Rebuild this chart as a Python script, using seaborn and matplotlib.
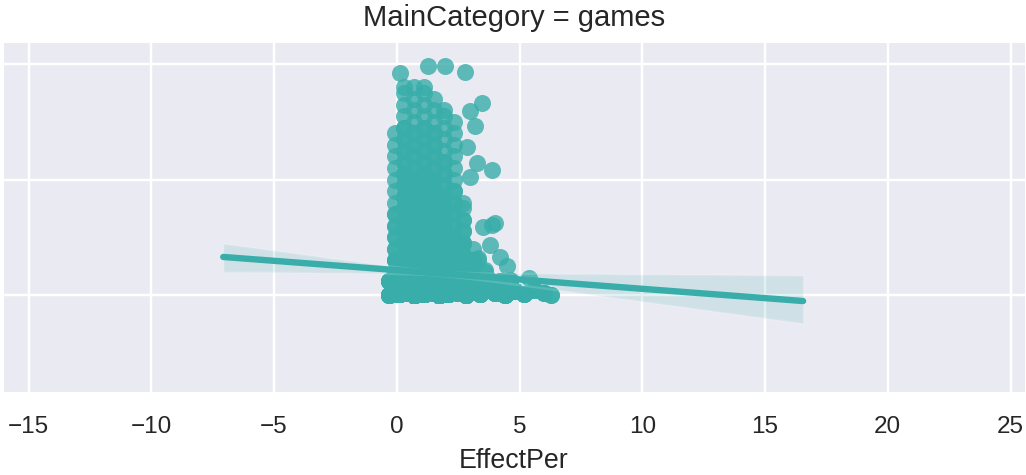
import numpy as np
import pandas as pd
import seaborn as sns
import matplotlib.pyplot as plt

# franja de abajo: casi todos los proyectos con valor ~0
band_x = [-0.3, -0.1, 0.1, 0.3, 0.5, 0.7, 0.9, 1.1, 1.3, 1.5, 1.7, 1.9, 2.1,
          2.3, 2.5, 2.8, 3.1, 3.4, 3.7, 4.0, 4.4, 4.8, 5.2, 5.6, 6.0, 6.3]
band_y = [0.0, 0.03, 0.01, 0.04, 0.02, 0.0, 0.03, 0.01, 0.04, 0.02, 0.0, 0.03, 0.01,
          0.04, 0.02, 0.0, 0.03, 0.01, 0.04, 0.02, 0.0, 0.03, 0.01, 0.04, 0.02, 0.0]
band_n = [10, 30, 60, 75, 80, 80, 80, 78, 72, 66, 60, 54, 48,
          42, 36, 28, 22, 17, 13, 10, 8, 6, 5, 4, 3, 2]

# segunda fila, un poco mas arriba
row_x = [-0.3, 0.2, 0.7, 1.2, 1.7, 2.2, 2.7, 3.2, 3.7, 4.2, 4.6, 5.4]
row_y = [0.12, 0.13, 0.11, 0.14, 0.12, 0.13, 0.11, 0.12, 0.14, 0.12, 0.13, 0.15]
row_n = [5, 15, 20, 20, 18, 15, 12, 8, 5, 3, 2, 1]

# nucleo denso, por columnas
core_x = [-0.09, 0.31, 0.71, 1.11, 1.51, 1.91, 2.31, 2.71, 3.11]
core_y = [
    [0.2, 0.3, 0.4, 0.5, 0.6, 0.7, 0.8, 0.9, 1.0, 1.1, 1.2, 1.3, 1.4],
    [0.25, 0.35, 0.45, 0.55, 0.65, 0.75, 0.85, 0.95, 1.05, 1.15, 1.25, 1.35, 1.45, 1.55, 1.65, 1.75, 1.8],
    [0.2, 0.3, 0.4, 0.5, 0.6, 0.7, 0.8, 0.9, 1.0, 1.1, 1.2, 1.3, 1.4, 1.5, 1.6, 1.7, 1.8],
    [0.25, 0.35, 0.45, 0.55, 0.65, 0.75, 0.85, 0.95, 1.05, 1.15, 1.25, 1.35, 1.45, 1.55, 1.65, 1.75, 1.8],
    [0.2, 0.3, 0.4, 0.5, 0.6, 0.7, 0.8, 0.9, 1.0, 1.1, 1.2, 1.3, 1.4, 1.5, 1.6, 1.7],
    [0.25, 0.35, 0.45, 0.55, 0.65, 0.75, 0.85, 0.95, 1.05, 1.15, 1.25, 1.35, 1.45, 1.55, 1.6],
    [0.2, 0.3, 0.4, 0.5, 0.6, 0.7, 0.8, 0.9, 1.0, 1.1, 1.2, 1.3, 1.4, 1.5],
    [0.25, 0.35, 0.45, 0.55, 0.65, 0.75, 0.8],
    [0.2, 0.3, 0.4],
]
core_n = [
    [3, 3, 2, 2, 2, 2, 1, 1, 1, 1, 1, 1, 1],
    [7, 6, 5, 5, 4, 4, 3, 3, 3, 2, 2, 2, 2, 1, 1, 1, 1],
    [7, 6, 5, 5, 4, 4, 3, 3, 3, 2, 2, 2, 2, 1, 1, 1, 1],
    [7, 6, 5, 5, 4, 4, 3, 3, 3, 2, 2, 2, 2, 1, 1, 1, 1],
    [7, 6, 5, 5, 4, 4, 3, 3, 3, 2, 2, 2, 2, 1, 1, 1],
    [6, 5, 4, 4, 3, 3, 3, 2, 2, 2, 1, 1, 1, 1, 1],
    [5, 4, 3, 3, 2, 2, 2, 2, 1, 1, 1, 1, 1, 1],
    [4, 3, 3, 2, 2, 1, 1],
    [3, 2, 1],
]

# puntos sueltos
out_x = [0.13, 1.28, 1.96, 2.78, 3.46, 3.19, 2.85, 3.25, 3.87, 2.98, 2.98,
         4.0, 3.5, 3.87, 3.8, 4.2, 4.48, 3.3, 3.3, 3.6, 3.6]
out_y = [1.92, 1.98, 1.98, 1.93, 1.66, 1.46, 1.28, 1.14, 1.08, 1.59, 1.02,
         0.62, 0.59, 0.61, 0.43, 0.33, 0.25, 0.3, 0.32, 0.2, 0.22]

x_ticks = [-15, -10, -5, 0, 5, 10, 15, 20, 25]

# armar el dataframe
xs = list(np.repeat(band_x, band_n)) + list(np.repeat(row_x, row_n))
ys = list(np.repeat(band_y, band_n)) + list(np.repeat(row_y, row_n))
for cx, cy, cn in zip(core_x, core_y, core_n):
    xs += [cx] * sum(cn)
    ys += list(np.repeat(cy, cn))
xs += out_x
ys += out_y

df = pd.DataFrame({'EffectPer': xs, 'Ratio': ys, 'MainCategory': 'games'})

sns.set_theme(style='darkgrid', rc={
    'xtick.labelsize': 10,
    'axes.labelsize': 11,
    'axes.titlesize': 12,
    'lines.linewidth': 1.75,
})
plt.rcParams['font.family'] = ['Liberation Sans', 'DejaVu Sans']

color = '#38ADA9'

fig = plt.figure(figsize=(1026 / 175, 475 / 175), dpi=175)
ax = fig.add_axes([0.002, 0.1726, 0.998, 0.741])

# la recta se extiende sobre el rango de x compartido por las facetas
ax.set_xlim(-7.07, 16.55)
sns.regplot(data=df, x='EffectPer', y='Ratio', ax=ax, truncate=False, seed=0,
            color=color, scatter_kws={'s': 49, 'linewidths': 0})

ax.set_xlim(-16.08, 25.63)
ax.set_ylim(-0.85, 2.2)
ax.set_xticks(x_ticks)
ax.set_yticks([0, 1, 2])
ax.set_yticklabels([])
ax.set_ylabel('')
ax.set_xlabel('EffectPer')
ax.set_title('MainCategory = games')

fig.savefig('out.png', dpi=175)
